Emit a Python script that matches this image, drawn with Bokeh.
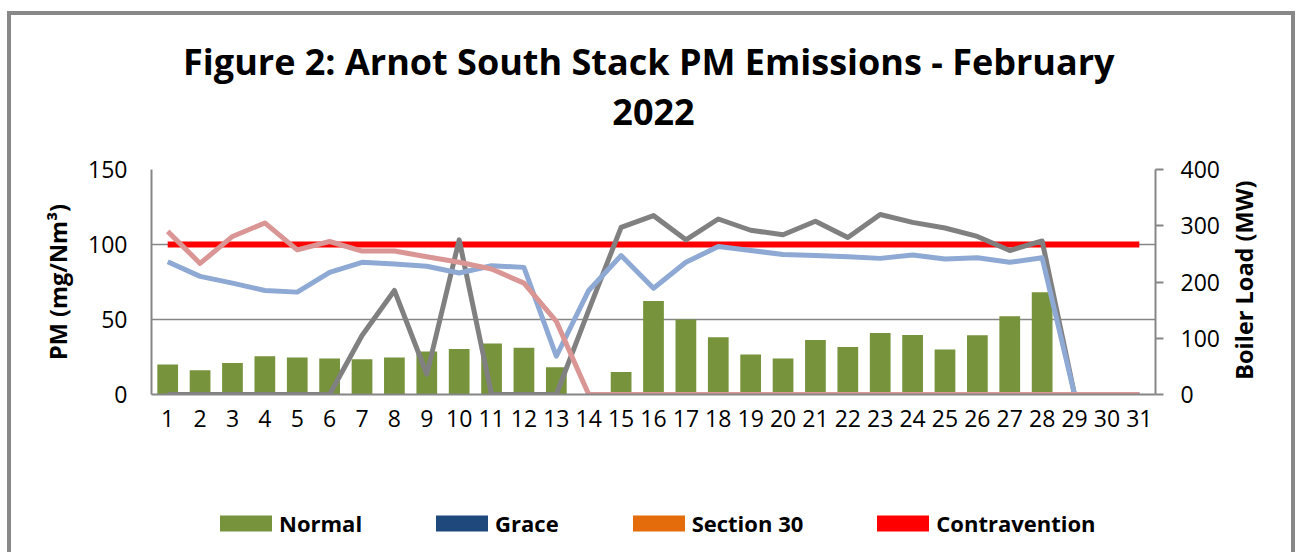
import math
from bokeh.plotting import figure
from bokeh.layouts import column, row
from bokeh.models import (Range1d, LinearAxis, FixedTicker, Legend, LegendItem, Label,
                          ColumnDataSource)
from bokeh.embed import file_html
from bokeh.resources import INLINE

# ---- data ----
days = list(range(1, 32))
day_labels = [str(d) for d in days]
normal = [20.0, 16.2, 21.0, 25.5, 24.7, 24.0, 23.5, 24.7, 28.7, 30.4, 34.0, 31.1, 18.2, 0,
          15.0, 62.4, 50.0, 38.2, 26.7, 24.0, 36.4, 31.6, 41.0, 39.6, 30.0, 39.5, 52.2, 68.2,
          0, 0, 0]
grace = [0, 0, 0, 0, 0, 0, 0, 0, 0, 0, 0, 0, 0, 0, 0, 0, 0, 0, 0, 0, 0, 0, 0, 0, 0, 0, 0, 0, 0, 0, 0]
section30 = [0, 0, 0, 0, 0, 0, 0, 0, 0, 0, 0, 0, 0, 0, 0, 0, 0, 0, 0, 0, 0, 0, 0, 0, 0, 0, 0, 0, 0, 0, 0]
contravention = [0, 0, 0, 0, 0, 0, 0, 0, 0, 0, 0, 0, 0, 0, 0, 0, 0, 0, 0, 0, 0, 0, 0, 0, 0, 0, 0, 0, 0, 0, 0]
limit = [100, 100, 100, 100, 100, 100, 100, 100, 100, 100, 100, 100, 100, 100, 100, 100,
         100, 100, 100, 100, 100, 100, 100, 100, 100, 100, 100, 100, 100, 100, 100]
load_pink = [290, 233, 281, 305, 257, 272, 255, 255, 245, 235, 223, 198, 130, 0, 0, 0, 0, 0,
             0, 0, 0, 0, 0, 0, 0, 0, 0, 0, 0, 0, 0]
load_blue = [236, 210, 198, 185, 182, 217, 235, 232, 228, 216, 229, 226, 68, 185, 247, 189,
             235, 263, 256, 249, 247, 245, 242, 248, 241, 243, 235, 243, 0, 0, 0]
load_gray = [0, 0, 0, 0, 0, 0, 105, 185, 36, 275, 0, 0, 0, 150, 297, 318, 275, 312, 292, 284,
             308, 279, 320, 306, 296, 281, 256, 273, 0, 0, 0]
left_ticks = [0, 50, 100, 150]
right_ticks = [0, 100, 200, 300, 400]
title_lines = ["Figure 2: Arnot South Stack PM Emissions -  February", "2022"]
left_label = "PM (mg/Nm³)"
right_label = "Boiler Load (MW)"
series_names = ["Normal", "Grace", "Section 30", "Contravention"]
series_colors = ["#77933C", "#1F497D", "#E46C0A", "#FF0000"]

src = ColumnDataSource(dict(day=days, normal=normal, grace=grace, section30=section30,
                            contravention=contravention, limit=limit, pink=load_pink,
                            blue=load_blue, gray=load_gray))
series_fields = ["normal", "grace", "section30", "contravention"]

FONT = "Open Sans"
AXIS_GREY = "#868686"
W = 1280
MAIN_W = 1212
TICK_FS = "23px"
AXLAB_FS = "23.5px"


def blank_fig(w, h):
    f = figure(width=w, height=h, output_backend="svg", toolbar_location=None,
               x_range=Range1d(0, w), y_range=Range1d(h, 0),
               min_border=0, min_border_left=0, min_border_right=0,
               min_border_top=0, min_border_bottom=0)
    f.axis.visible = False
    f.grid.visible = False
    f.outline_line_color = None
    f.background_fill_color = "white"
    f.border_fill_color = "white"
    return f


# ---- title strip ----
t = blank_fig(W, 130)
for txt, yc in zip(title_lines, [46, 96]):
    t.add_layout(Label(x=642, y=yc, text=txt, text_align="center", text_baseline="middle",
                       text_font=FONT, text_font_size="36px", text_font_style="bold",
                       text_color="black"))

# ---- main chart ----
p = figure(width=MAIN_W, height=315, output_backend="svg", toolbar_location=None,
           x_range=Range1d(0.5, 31.5), y_range=Range1d(0, 150),
           min_border_left=140, min_border_right=MAIN_W - 140 - 1004, min_border_top=24,
           min_border_bottom=66)
p.extra_y_ranges = {"load": Range1d(0, 400)}
p.outline_line_color = None
p.background_fill_color = "white"
p.border_fill_color = "white"

for fld, col in zip(series_fields, series_colors):
    p.vbar(x="day", top=fld, width=0.64, source=src, fill_color=col, line_color=None)

p.line(x="day", y="limit", source=src, line_color="#FF0000", line_width=6)
p.line(x="day", y="gray", source=src, y_range_name="load", line_color="#808080", line_width=5,
       line_join="round")
p.line(x="day", y="blue", source=src, y_range_name="load", line_color="#8EA9D3", line_width=5,
       line_join="round")
p.line(x="day", y="pink", source=src, y_range_name="load", line_color="#D99694", line_width=5,
       line_join="round")

xa = p.xaxis[0]
xa.ticker = FixedTicker(ticks=days)
xa.major_label_overrides = {d: l for d, l in zip(days, day_labels)}
xa.major_tick_out = 0
xa.major_tick_in = 0
xa.minor_tick_out = 0
xa.minor_tick_in = 0
xa.axis_line_color = AXIS_GREY
xa.axis_line_width = 2
xa.major_label_text_font = FONT
xa.major_label_text_font_size = TICK_FS
xa.major_label_text_color = "black"
xa.major_label_standoff = 15

ya = p.yaxis[0]
ya.ticker = FixedTicker(ticks=left_ticks)
ya.major_tick_out = 0
ya.major_tick_in = 0
ya.minor_tick_out = 0
ya.minor_tick_in = 0
ya.axis_line_color = AXIS_GREY
ya.axis_line_width = 2
ya.major_label_text_font = FONT
ya.major_label_text_font_size = TICK_FS
ya.major_label_text_color = "black"
ya.major_label_standoff = 24
ya.axis_label = left_label
ya.axis_label_text_font = FONT
ya.axis_label_text_font_size = AXLAB_FS
ya.axis_label_text_font_style = "bold"
ya.axis_label_text_color = "black"
ya.axis_label_standoff = 11

ra = LinearAxis(y_range_name="load", ticker=FixedTicker(ticks=right_ticks))
ra.major_tick_out = 8
ra.major_tick_in = 0
ra.major_tick_line_color = AXIS_GREY
ra.major_tick_line_width = 2
ra.minor_tick_out = 0
ra.minor_tick_in = 0
ra.axis_line_color = AXIS_GREY
ra.axis_line_width = 2
ra.major_label_text_font = FONT
ra.major_label_text_font_size = TICK_FS
ra.major_label_text_color = "black"
ra.major_label_standoff = 17
p.add_layout(ra, "right")

p.xgrid.grid_line_color = None
p.ygrid.grid_line_color = AXIS_GREY
p.ygrid.grid_line_width = 1.5
p.ygrid.ticker = FixedTicker(ticks=left_ticks)

# ---- right axis title strip ----
rf = blank_fig(W - MAIN_W, 315)
rf.add_layout(Label(x=1232 - MAIN_W, y=155, text=right_label, angle=math.pi / 2,
                    text_align="center", text_baseline="middle", text_font=FONT,
                    text_font_size=AXLAB_FS, text_font_style="bold", text_color="black"))

# ---- legend strip ----
lg = blank_fig(W, 92)
proxies = []
for fld, col in zip(series_fields, series_colors):
    proxies.append(lg.vbar(x="day", top=fld, width=0.64, source=src, fill_color=col,
                           line_color=None, visible=False))
legend = Legend(items=[LegendItem(label=n, renderers=[r]) for n, r in zip(series_names, proxies)],
                orientation="horizontal", location=(202, 14),
                glyph_width=65, glyph_height=20, spacing=67, label_standoff=1,
                padding=0, margin=0, border_line_alpha=0, background_fill_alpha=0,
                inactive_fill_alpha=0,
                label_text_font=FONT, label_text_font_size="22px", label_text_font_style="bold",
                label_text_color="black")
lg.add_layout(legend, "center")

layout = column(t, row(p, rf, spacing=0), lg, spacing=0)
layout.styles = {"margin-left": "7px", "margin-top": "11px", "border-left": "4px solid #888888",
                 "border-top": "4px solid #888888", "border-right": "4px solid #888888"}

open("out.html", "w").write(file_html(layout, INLINE))
